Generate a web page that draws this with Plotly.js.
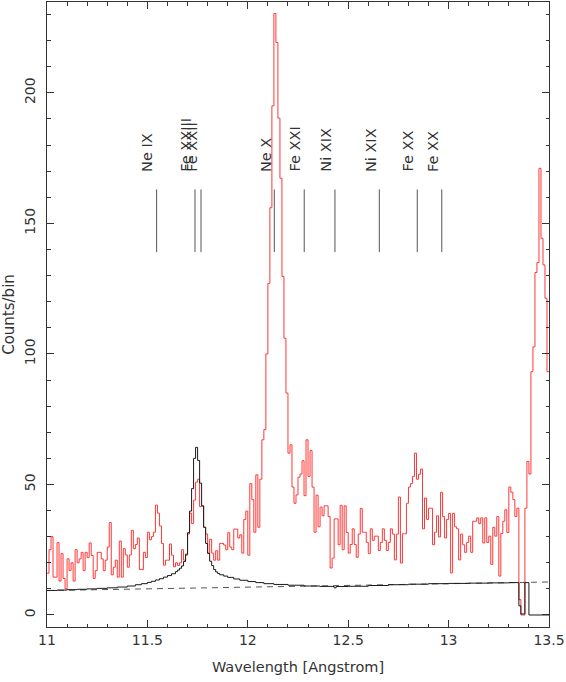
<!DOCTYPE html>
<html><head><meta charset="utf-8">
<script src="https://cdn.plot.ly/plotly-3.0.1.min.js"></script>
<style>html,body{margin:0;padding:0;background:#fff}#chart{width:566px;height:682px}</style>
</head><body><div id="chart"></div>
<script>
// Observed spectrum, counts per 0.01 Angstrom bin
const binStart = 11.0;
const binWidth = 0.01;
const counts11_0 = [16,25,30,14.5,14.5,27.7,13,23.5,14,10,21.5,17,20,13,25,20,21.5,24,17,24,22,27.6,22.8,14,17,24,24,21.5,17,21,26,35.4,15.4,18.3,21,14.5,28.3,14.5,25.4,23,18.3,23,32.4,25.4,27,29.5,17.4,17.4,24,22];
const counts11_5 = [31.7,28.8,30,31.7,42.1,39,34.1,27.4,19.1,21,21,27.2,22.9,18.5,20,19,20,25,21,22.9,31,39,35,44,50.9,52,41.5,41.8,33.6,31,23.7,29,23.7,21,24.6,21,27.4,27.4,26.8,25,31.5,26,25,32.9,32.9,29.5,30.7,23.7,36.6,39.8];
const counts12_0 = [22.9,50.3,44.2,31.7,53.7,33.6,52,67.1,71,100,127,156,195,230.4,219.3,190.3,167.3,129.7,106,85,62,65.2,49,42.8,46,52.8,54,59.1,45.7,67.1,53.1,63,49,31.7,45.9,33.8,41.3,38,41.8,41.8,37.7,18,21.8,36.8,36.8,26.9,42,25,41.8,31.6,23.7,27,33,27,22.1,31,40.8,31.7,31.7,27.8,23.5,33,28.6,30.2,30.2,24.7,27.8,33,28.6,24.7,27.8,33,31,21.1,31,45.2,19.9,31.1,31.1,42.8,49,50.3,53.1,62,52,53.9,55.9,33,44.8,36.6,40.9,40.9,26.9,31.7,38,29.9,47,37.7,29.5,36.6];
const counts13_0 = [38.9,16.1,38.9,33.8,33,21.1,31,26.9,24,27.8,30.2,24,35.9,35.9,37.2,35,37.2,27.6,37.2,27.8,30.2,19.4,33.6,30.2,37.7,14.9,31.2,35.9,40.3,31.6,49,47,44.2,37.7,40.9,5.9,0,0,40.9,58.8,54,93.2,102.7,131.2,135,171.1,144.3,134.1,121.3,93.2];

// Model (bin left edges and values)
const modelWave = [11.00,11.05,11.10,11.15,11.20,11.25,11.30,11.35,11.40,11.44,11.47,11.50,11.52,11.54,11.56,11.58,11.60,11.62,11.64,11.65,11.66,11.67,11.68,11.69,11.70,11.71,11.72,11.73,11.74,11.75,11.76,11.77,11.78,11.79,11.80,11.81,11.82,11.83,11.84,11.85,11.86,11.88,11.90,11.93,11.96,12.00,12.04,12.08,12.13,12.20,12.28,12.36,12.42,12.43,12.44,12.50,12.60,12.70,12.80,12.90,13.00,13.10,13.20,13.30,13.35,13.36,13.38,13.40,13.50];
const modelCounts = [9.4,9.55,9.7,9.85,10.0,10.2,10.4,10.7,11.1,11.6,12.0,12.5,12.9,13.4,13.9,14.5,15.1,15.8,16.6,17.2,17.9,18.8,20.5,23.3,31.5,39.8,48.4,60,64.2,59.2,50.5,41.8,33.6,27.4,23.6,20.6,18.9,17.4,16.5,15.9,15.4,14.9,14.4,13.8,13.3,12.8,12.4,12.0,11.7,11.4,11.1,10.95,10.9,10.4,10.9,11.0,11.3,11.6,11.8,12.0,12.1,12.2,12.3,12.4,3.5,0.4,12.4,0,0];

// Continuum (dashed)
const contWave = [11.0, 13.5];
const contCounts = [9.35, 12.65];

// Line identifications
const lineWave = [11.546, 11.737, 11.767, 12.132, 12.281, 12.434, 12.655, 12.844, 12.966];
const lineNames = ["Ne IX", "Fe XXIII", "Fe XXII", "Ne X", "Fe XXI", "Ni XIX", "Ni XIX", "Fe XX", "Fe XX"];
const markLow = 139, markHigh = 163, labelBase = 169.4;

const redCounts = [].concat(counts11_0, counts11_5, counts12_0, counts13_0);
const redX = redCounts.map((_, i) => +(binStart + i * binWidth).toFixed(3));
redX.push(+(binStart + redCounts.length * binWidth).toFixed(3));
const redY = redCounts.concat([redCounts[redCounts.length - 1]]);

function mkFont(size) { return {family: 'DejaVu Sans, sans-serif', size: size, color: '#333'}; }

const traces = [
  {x: contWave, y: contCounts, mode: 'lines', line: {color: '#555', width: 1, dash: '6px,5px'}, hoverinfo: 'skip'},
  {x: redX, y: redY, mode: 'lines', line: {color: 'rgb(255,55,55)', width: 1, shape: 'hv'}},
  {x: modelWave, y: modelCounts, mode: 'lines', line: {color: '#1a1a1a', width: 1, shape: 'hv'}}
];

const shapes = lineWave.map(w => ({type: 'line', xref: 'x', yref: 'y', x0: w, x1: w, y0: markLow, y1: markHigh, line: {color: '#555', width: 1}}));
const annotations = lineWave.map((w, i) => ({
  x: w, y: labelBase, xref: 'x', yref: 'y', text: lineNames[i], showarrow: false,
  textangle: -90, xanchor: 'right', yanchor: 'bottom', font: mkFont(14.5), borderpad: 0
}));

const axisCommon = {
  ticks: 'inside', ticklen: 7, tickcolor: '#333', tickwidth: 1,
  showline: true, linecolor: '#333', linewidth: 1, mirror: 'allticks',
  showgrid: false, zeroline: false, tickfont: mkFont(14)
};

const layout = {
  width: 566, height: 682,
  margin: {l: 47, r: 17, t: 2, b: 55},
  paper_bgcolor: '#fff', plot_bgcolor: '#fff',
  showlegend: false,
  xaxis: Object.assign({}, axisCommon, {
    range: [11, 13.5], tick0: 11, dtick: 0.5,
    minor: {dtick: 0.1, ticks: 'inside', ticklen: 3.5, tickcolor: '#333'},
    title: {text: 'Wavelength [Angstrom]', font: mkFont(14.5), standoff: 15}
  }),
  yaxis: Object.assign({}, axisCommon, {
    range: [-4.6, 234.8], tick0: 0, dtick: 50, tickangle: -90, ticklabelstandoff: 5,
    minor: {dtick: 10, ticks: 'inside', ticklen: 3.5, tickcolor: '#333'},
    title: {text: 'Counts/bin', font: mkFont(15), standoff: 6}
  }),
  shapes: shapes,
  annotations: annotations
};

Plotly.newPlot('chart', traces, layout, {staticPlot: true, displayModeBar: false});
</script>
</body></html>
